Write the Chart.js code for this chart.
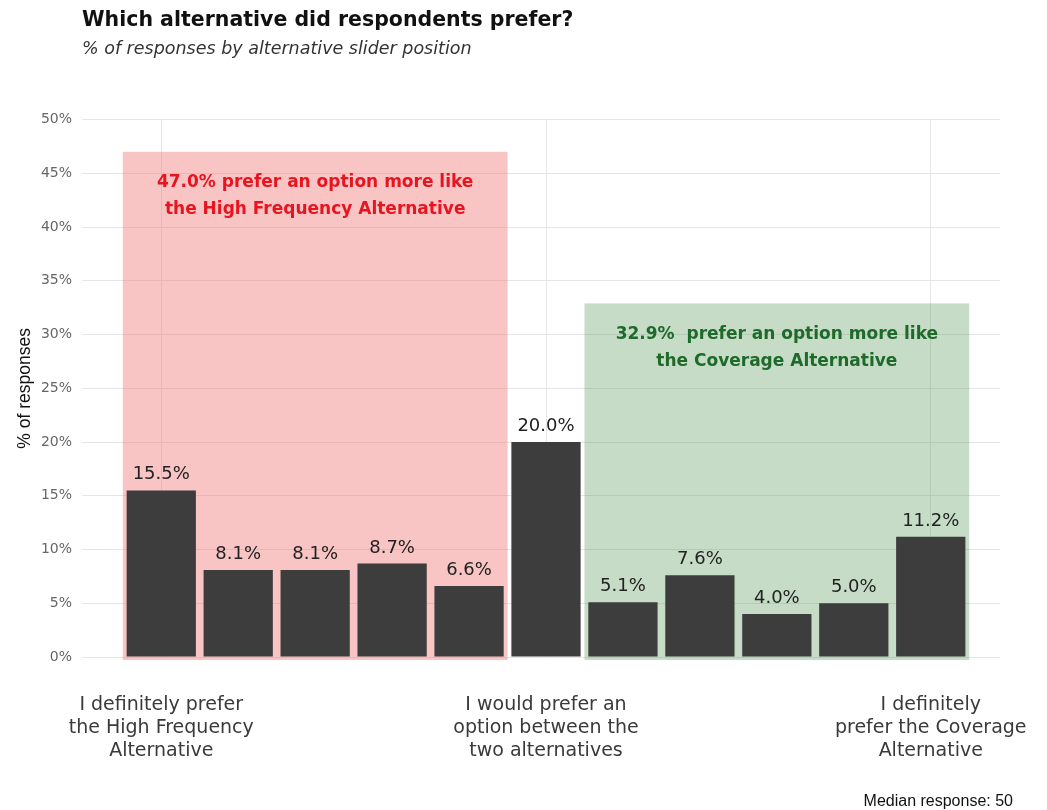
<!DOCTYPE html>
<html>
<head>
<meta charset="utf-8">
<title>Which alternative did respondents prefer?</title>
<script src="https://cdn.jsdelivr.net/npm/chart.js@4.4.1/dist/chart.umd.min.js"></script>
<style>
  html, body { margin: 0; padding: 0; background: #fff; }
  #wrap { position: relative; width: 1047px; height: 810px; }
</style>
</head>
<body>
<div id="wrap"><canvas id="chart"></canvas></div>
<script>
  // slider positions 0..10 and share of responses at each (%)
  var sliderPos = [0, 1, 2, 3, 4, 5, 6, 7, 8, 9, 10];
  var shares = [15.5, 8.1, 8.1, 8.7, 6.6, 20.0, 5.1, 7.6, 4.0, 5.0, 11.2];

  // only three positions carry a label on the x axis
  var labelPos = [0, 5, 10];
  var labelText = [
    ["I definitely prefer", "the High Frequency", "Alternative"],
    ["I would prefer an", "option between the", "two alternatives"],
    ["I definitely", "prefer the Coverage", "Alternative"]
  ];

  // shaded groups: first / last slider position, total share, note
  var groupFrom = [0, 6];
  var groupTo = [4, 10];
  var groupTotal = [47.0, 32.9];
  var groupNote = [
    ["47.0% prefer an option more like", "the High Frequency Alternative"],
    ["32.9%  prefer an option more like", "the Coverage Alternative"]
  ];

  var COL = {
    bar: "#3d3d3d",
    grid: "#e6e6e6",
    shade: ["rgba(238,108,108,0.40)", "rgba(82,150,82,0.33)"],
    note: ["#e8141f", "#1e6a2b"],
    text: "#222"
  };
  var AV = "'DejaVu Sans', sans-serif";
  var HV = "'Liberation Sans', Arial, sans-serif";

  var notes = {
    id: "notes",
    beforeDatasetsDraw: function (chart) {
      var ctx = chart.ctx, x = chart.scales.x, y = chart.scales.y;
      ctx.save();
      groupFrom.forEach(function (from, k) {
        var l = x.getPixelForValue(from - 0.5);
        var r = x.getPixelForValue(groupTo[k] + 0.5);
        var t = y.getPixelForValue(groupTotal[k]);
        var b = y.getPixelForValue(0);
        ctx.fillStyle = COL.shade[k];
        ctx.fillRect(l, t, r - l, b - t + 3);
      });
      ctx.restore();
    },
    afterDatasetsDraw: function (chart) {
      var ctx = chart.ctx, x = chart.scales.x, y = chart.scales.y;
      ctx.save();
      ctx.textAlign = "center";
      ctx.textBaseline = "middle";
      ctx.font = "bold 17px " + AV;
      groupFrom.forEach(function (from, k) {
        var cx = x.getPixelForValue((from + groupTo[k]) / 2);
        var t = y.getPixelForValue(groupTotal[k]);
        ctx.fillStyle = COL.note[k];
        groupNote[k].forEach(function (line, j) {
          ctx.fillText(line, cx, t + 31 + j * 27);
        });
      });
      // value labels above the bars
      ctx.font = "18px " + AV;
      ctx.fillStyle = COL.text;
      ctx.textBaseline = "alphabetic";
      chart.getDatasetMeta(0).data.forEach(function (bar, i) {
        ctx.fillText(shares[i].toFixed(1) + "%", bar.x, bar.y - 11);
      });
      ctx.restore();
    },
    afterDraw: function (chart) {
      var ctx = chart.ctx;
      ctx.save();
      ctx.font = "16px " + HV;
      ctx.fillStyle = "#111";
      ctx.textAlign = "right";
      ctx.textBaseline = "middle";
      ctx.fillText("Median response: 50", 1013, 802);
      ctx.restore();
    }
  };

  new Chart(document.getElementById("chart"), {
    type: "bar",
    data: {
      datasets: [{
        data: sliderPos.map(function (p, i) { return { x: p, y: shares[i] }; }),
        backgroundColor: COL.bar,
        borderWidth: 0,
        barPercentage: 0.9,
        categoryPercentage: 1.0
      }]
    },
    plugins: [notes],
    options: {
      responsive: true, maintainAspectRatio: false, animation: false,
      layout: { padding: { top: 4, right: 47, bottom: 10, left: 0 } },
      plugins: {
        legend: { display: false },
        tooltip: { enabled: false },
        title: {
          display: true, text: "Which alternative did respondents prefer?",
          align: "start", fullSize: false, color: "#111",
          font: { family: AV, size: 20.5, weight: "bold" },
          padding: { top: 4, bottom: 4 }
        },
        subtitle: {
          display: true, text: "% of responses by alternative slider position",
          align: "start", fullSize: false, color: "#333",
          font: { family: AV, size: 17.5, style: "italic" },
          padding: { top: 2, bottom: 60 }
        }
      },
      scales: {
        x: {
          type: "linear", min: -1.03, max: 10.9, offset: false,
          afterBuildTicks: function (s) {
            s.ticks = labelPos.map(function (v) { return { value: v }; });
          },
          // the outer labels fit inside the page margins, so no extra side padding
          afterFit: function (s) { s.paddingLeft = 0; s.paddingRight = 0; },
          ticks: {
            autoSkip: false, maxRotation: 0, padding: 37, color: "#3a3a3a",
            font: { family: AV, size: 19, lineHeight: 1.21 },
            callback: function (v) { return labelText[labelPos.indexOf(v)]; }
          },
          grid: { color: COL.grid, drawTicks: false, offset: false },
          border: { display: false }
        },
        y: {
          min: 0, max: 50,
          afterFit: function (s) { s.width = 82; },
          ticks: {
            stepSize: 5, padding: 10, color: "#666",
            font: { family: AV, size: 14 },
            callback: function (v) { return v + "%"; }
          },
          grid: { color: COL.grid, drawTicks: false },
          border: { display: false },
          title: {
            display: true, text: "% of responses", color: "#111",
            font: { family: HV, size: 17.5 },
            padding: { top: 15, bottom: 0 }
          }
        }
      }
    }
  });
</script>
</body>
</html>
